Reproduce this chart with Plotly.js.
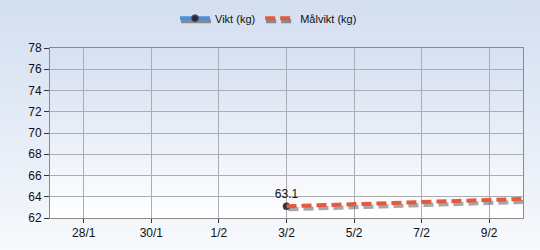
<!DOCTYPE html>
<html><head><meta charset="utf-8">
<script src="https://cdn.plot.ly/plotly-3.0.1.min.js"></script>
<style>
html,body{margin:0;padding:0;width:540px;height:250px;overflow:hidden;}
body{background:linear-gradient(to bottom,#d3def0 0%,#e6edf7 55%,#f7f9fc 100%);}
#bgplot{position:absolute;left:50px;top:48px;width:473px;height:170px;background:linear-gradient(to bottom,#d5e0f1 0%,#e9eef7 50%,#ffffff 100%);}
#chart{position:absolute;left:0;top:0;width:540px;height:250px;}
#chart .scatterlayer .js-line{filter:drop-shadow(2px 3px 0 rgba(80,80,80,0.5));}
#chart .legend .js-line{filter:drop-shadow(1px 3px 0 rgba(80,80,80,0.6));}
</style></head>
<body>
<div id="bgplot"></div>
<div id="chart"></div>
<script>
const viktDates = ['2025-02-03'];
const viktValues = [63.1];
const malDates = ['2025-02-03', '2025-02-10'];
const malValues = [63.1, 63.8];
const tickDates = ['2025-01-28','2025-01-30','2025-02-01','2025-02-03','2025-02-05','2025-02-07','2025-02-09'];
const tickLabels = ['28/1','30/1','1/2','3/2','5/2','7/2','9/2'];
const yTicks = [62,64,66,68,70,72,74,76,78];

const traces = [
  {
    name: 'Vikt (kg)', x: viktDates, y: viktValues, type: 'scatter', mode: 'lines+markers+text',
    text: viktValues.map(v => v.toFixed(1)), textposition: 'top center',
    textfont: {family: 'Liberation Sans, Arial, sans-serif', size: 12, color: '#111'},
    line: {color: '#4a8fe0', width: 4},
    marker: {color: '#2a2a3a', size: 7, symbol: 'circle', line: {color: '#555566', width: 1}}
  },
  {
    name: 'Målvikt (kg)', x: malDates, y: malValues, type: 'scatter', mode: 'lines',
    line: {color: '#e35a3c', width: 4, dash: '10px,5px'}
  }
];

const layout = {
  width: 540, height: 250,
  margin: {l: 50, r: 17, t: 48, b: 32},
  paper_bgcolor: 'rgba(0,0,0,0)', plot_bgcolor: 'rgba(0,0,0,0)',
  font: {family: 'Liberation Sans, Arial, sans-serif', size: 12, color: '#111'},
  showlegend: true,
  legend: {orientation: 'h', x: 0.462, xanchor: 'center', y: 0.985, yref: 'container', yanchor: 'top',
           font: {size: 11, color: '#111'}, itemwidth: 30, bgcolor: 'rgba(0,0,0,0)', tracegroupgap: 0},
  xaxis: {
    type: 'date', range: ['2025-01-27', '2025-02-10'],
    tickmode: 'array', tickvals: tickDates, ticktext: tickLabels,
    showgrid: true, gridcolor: '#a9adb5', gridwidth: 1,
    showline: true, linecolor: '#8a8a8a', linewidth: 1, mirror: true,
    ticks: 'outside', ticklen: 4, tickcolor: '#333', zeroline: false,
    tickfont: {size: 12, color: '#111'}
  },
  yaxis: {
    range: [62, 78], tickmode: 'array', tickvals: yTicks,
    showgrid: true, gridcolor: '#a9adb5', gridwidth: 1,
    showline: true, linecolor: '#8a8a8a', linewidth: 1, mirror: true,
    ticks: 'outside', ticklen: 5, tickcolor: '#333', zeroline: false,
    tickfont: {size: 12, color: '#111'}
  }
};

Plotly.newPlot('chart', traces, layout, {displayModeBar: false, staticPlot: true});
</script>
</body></html>
